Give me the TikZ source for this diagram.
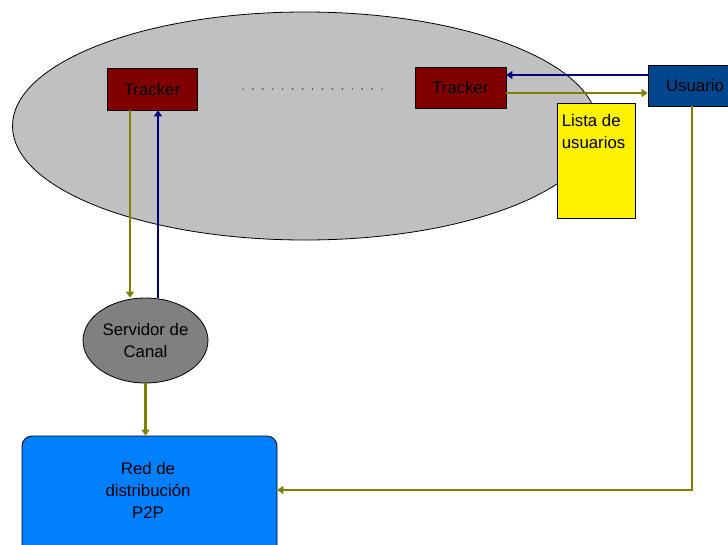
\documentclass[tikz,border=0pt]{standalone}
\usepackage{fontspec}
\setmainfont{Liberation Sans}
\usetikzlibrary{arrows.meta,calc,shapes.geometric}
\definecolor{trackred}{HTML}{800000}
\definecolor{userblue}{HTML}{00468C}
\definecolor{netblue}{HTML}{0080FF}
\definecolor{oliveline}{HTML}{808000}
\definecolor{navyline}{HTML}{000080}
\definecolor{cloudgray}{HTML}{C0C0C0}
\definecolor{servergray}{HTML}{808080}
\tikzset{
  txt/.style={font=\fontsize{16.8}{22}\selectfont, text=black},
  box/.style={draw=black, line width=0.8pt, rectangle, inner sep=0pt, txt},
  tracker/.style={box, fill=trackred, minimum width=90pt, minimum height=42pt},
  flow/.style={line width=2.2pt, -{Triangle[length=6pt,width=8pt]}},
  oliveflow/.style={flow, draw=oliveline},
  navyflow/.style={flow, draw=navyline},
}
\begin{document}
\begin{tikzpicture}[x=1pt, y=-1pt]
  \useasboundingbox (0,0) rectangle (728,544);
  \clip (0,0) rectangle (728,544);
  \fill[white] (0,0) rectangle (728,544);

  % tracker cloud
  \node[ellipse, draw=black, line width=0.8pt, fill=cloudgray,
        minimum width=585pt, minimum height=228pt, inner sep=0pt] (cloud) at (305,126) {};

  % trackers and the dots between them
  \node[tracker] (trk1) at (152,89) {Tracker};
  \node[tracker, minimum width=91pt, minimum height=41pt] (trk2) at (460.5,87.5) {Tracker};
  \foreach \i in {0,...,14}
    \fill (243+\i*9.93,89) circle (0.7pt);

  % user
  \node[box, fill=userblue, minimum width=94pt, minimum height=41pt] (usr) at (695,85.5) {Usuario};

  % user list
  \node[box, fill=yellow, minimum width=78pt, minimum height=115pt] (lista) at (596,160.5) {};
  \node[txt, anchor=north west, align=left, inner sep=0pt] (listatxt)
        at ($(lista.north west)+(5,12)$) {Lista de\\usuarios};

  % channel server
  \node[ellipse, draw=black, line width=0.8pt, fill=servergray, inner sep=0pt,
        minimum width=125pt, minimum height=85pt, txt, align=center] (srv) at (145.5,340.5)
        {Servidor de\\Canal};

  % P2P distribution network
  \node[draw=black, line width=0.8pt, fill=netblue, rounded corners=10pt,
        minimum width=255pt, minimum height=130pt, inner sep=0pt] (red) at (149.5,501) {};
  \node[txt, align=center, inner sep=0pt] (redtxt) at (148,490)
        {Red de\\distribución\\P2P};

  % connectors
  \coordinate (t2a) at ($(trk2.east)+(0,-12.5)$);
  \coordinate (t2b) at ($(trk2.east)+(0,5.5)$);
  \draw[navyflow] (usr.west |- t2a) -- (t2a);
  \draw[oliveflow] (t2b) -- (usr.west |- t2b);

  \coordinate (t1a) at ($(trk1.south)+(-22,0)$);
  \coordinate (t1b) at ($(trk1.south)+(6,0)$);
  \draw[oliveflow] (t1a) -- (t1a |- srv.north);
  \draw[navyflow] (t1b |- srv.north) -- (t1b);

  \draw[oliveflow] (srv.south) -- (srv.south |- red.north);

  \coordinate (usrdown) at ($(usr.south)+(-3,0)$);
  \draw[oliveflow] (usrdown) |- (red.east |- redtxt);
\end{tikzpicture}
\end{document}
